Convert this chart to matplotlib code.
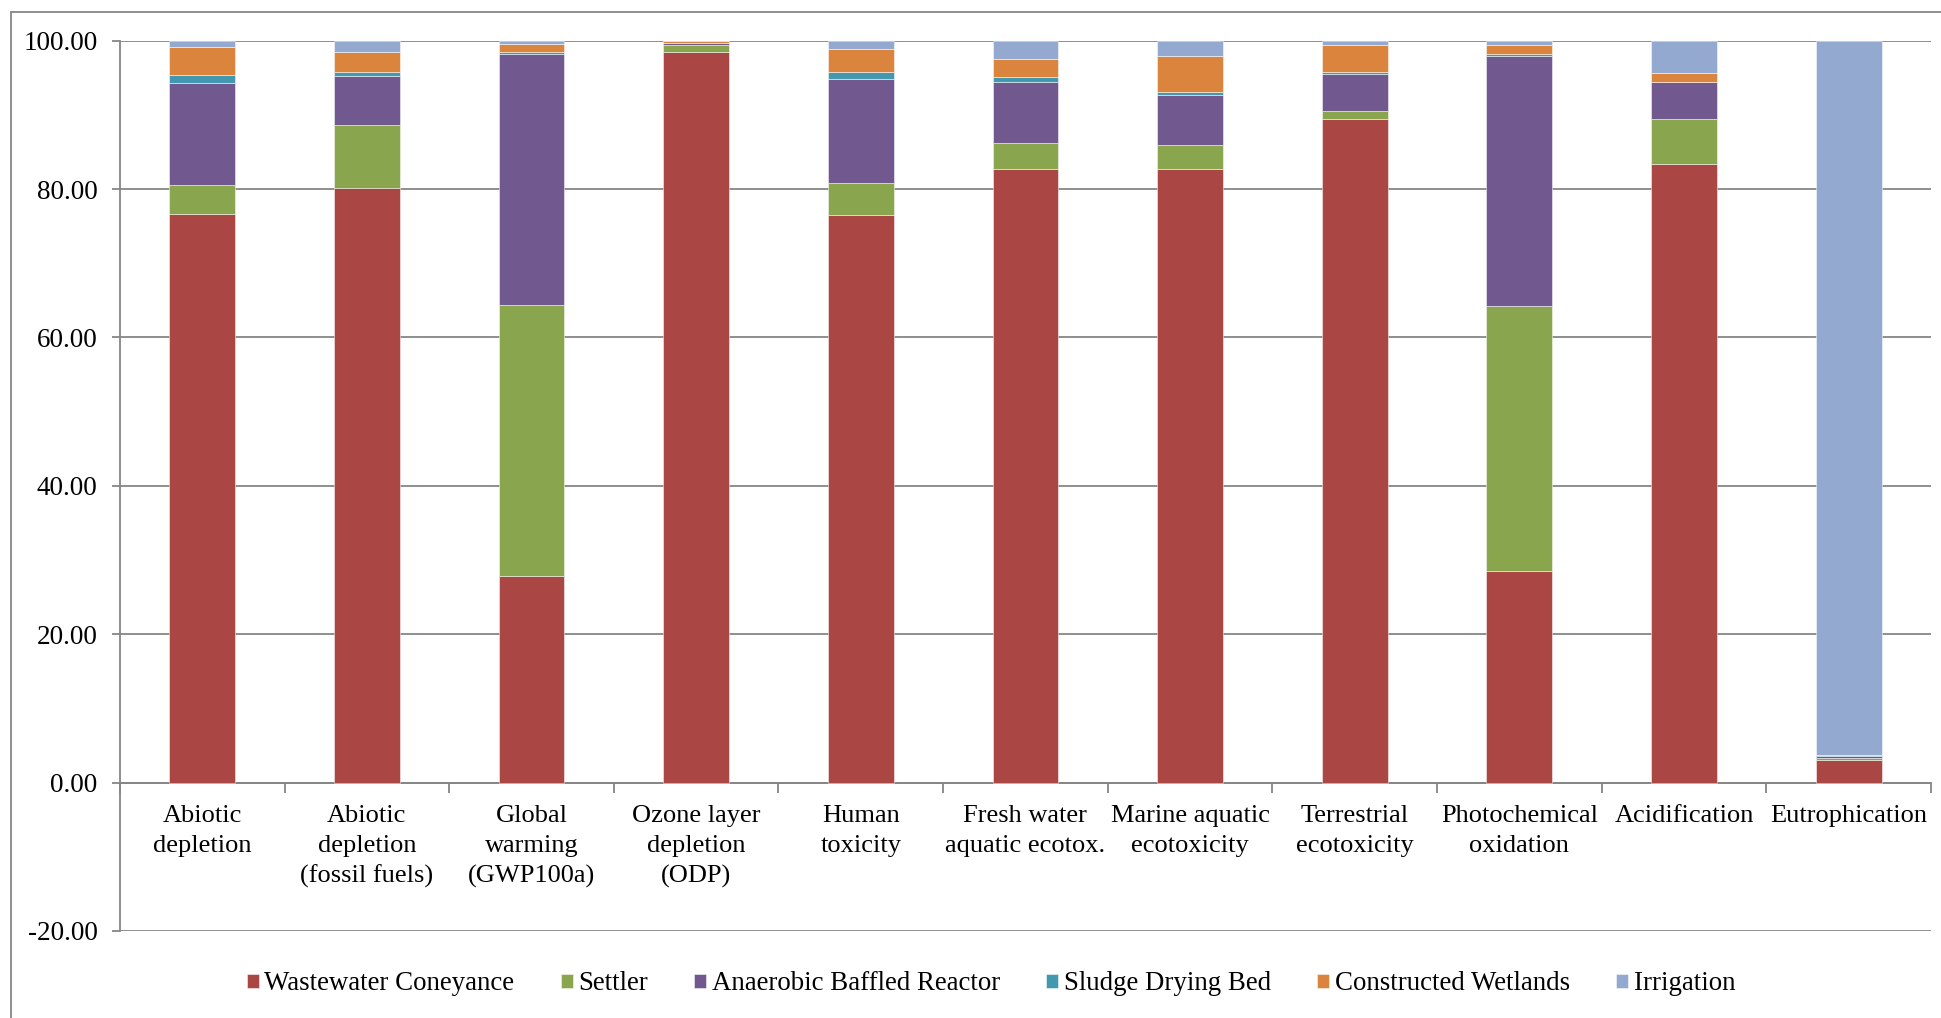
import numpy as np
import matplotlib
matplotlib.use("Agg")
import matplotlib.pyplot as plt
from matplotlib.patches import Rectangle
from matplotlib.ticker import FixedLocator, FormatStrFormatter

plt.rcParams['font.family'] = ['Liberation Serif', 'DejaVu Serif']

categories = [
    "Abiotic\ndepletion", "Abiotic\ndepletion\n(fossil fuels)", "Global\nwarming\n(GWP100a)",
    "Ozone layer\ndepletion\n(ODP)", "Human\ntoxicity", "Fresh water\naquatic ecotox.",
    "Marine aquatic\necotoxicity", "Terrestrial\necotoxicity", "Photochemical\noxidation",
    "Acidification", "Eutrophication",
]

# contribution of each stage (%) per impact category
wastewater_conveyance = [76.7, 80.2, 27.9, 98.5, 76.5, 82.7, 82.7, 89.4, 28.5, 83.4, 3.1]
settler = [3.8, 8.45, 36.5, 0.9, 4.3, 3.45, 3.2, 1.15, 35.7, 6.05, 0.25]
anaerobic_baffled_reactor = [13.85, 6.65, 33.85, 0.3, 14.1, 8.35, 6.75, 4.9, 33.8, 4.95, 0.3]
sludge_drying_bed = [1.0, 0.55, 0.25, 0.03, 0.95, 0.6, 0.45, 0.3, 0.25, 0.05, 0.02]
constructed_wetlands = [3.85, 2.65, 1.1, 0.2, 3.1, 2.4, 4.9, 3.65, 1.15, 1.25, 0.03]
irrigation = [0.8, 1.5, 0.4, 0.07, 1.05, 2.5, 2.0, 0.6, 0.6, 4.3, 96.3]

series = [
    ("Wastewater Coneyance", wastewater_conveyance, "#AA4643"),
    ("Settler", settler, "#89A54E"),
    ("Anaerobic Baffled Reactor", anaerobic_baffled_reactor, "#71588F"),
    ("Sludge Drying Bed", sludge_drying_bed, "#4198AF"),
    ("Constructed Wetlands", constructed_wetlands, "#DB843D"),
    ("Irrigation", irrigation, "#93A9CF"),
]

grid_col = "#868686"
fs = 19

fig = plt.figure(figsize=(19.41, 10.18), dpi=100)
ax = fig.add_axes([0.0618, 0.0855, 0.9330, 0.8745])

# outer chart frame
fig.patches.append(Rectangle((11 / 1941, -0.1), 1.2, 1 - 12 / 1018 + 0.1,
                             transform=fig.transFigure, fill=False,
                             edgecolor=grid_col, linewidth=1.3))

x = np.arange(len(categories))
bottom = np.zeros(len(categories))
for name, vals, col in series:
    vals = np.array(vals)
    ax.bar(x, vals, width=0.4, bottom=bottom, color=col, label=name,
           edgecolor=(1, 1, 1, 0.5), linewidth=0.7, zorder=3)
    bottom += vals

ax.set_xlim(-0.5, len(categories) - 0.5)
ax.set_ylim(-20, 100)
ax.set_yticks(np.arange(-20, 101, 20))
ax.yaxis.set_major_formatter(FormatStrFormatter("%.2f"))
ax.yaxis.grid(True, color=grid_col, linewidth=1.3, zorder=0)

for s in ["top", "right"]:
    ax.spines[s].set_visible(False)
ax.spines["left"].set_color(grid_col)
ax.spines["left"].set_linewidth(1.3)
ax.spines["bottom"].set_position(("data", 0))
ax.spines["bottom"].set_color(grid_col)
ax.spines["bottom"].set_linewidth(1.3)

ax.set_xticks(x)
ax.set_xticklabels(categories, fontsize=fs, linespacing=1.46, va="top")
ax.xaxis.set_minor_locator(FixedLocator(np.arange(-0.5, len(categories), 1.0)))
ax.tick_params(axis="x", which="major", length=0, pad=16)
ax.tick_params(axis="x", which="minor", length=7, width=1.3, color=grid_col, direction="out")
ax.tick_params(axis="y", length=6, width=1.3, color=grid_col, labelsize=19.5, pad=10)

fig.legend(loc="center", bbox_to_anchor=(0.5106, 0.0334), ncol=6, frameon=False,
           fontsize=19.4, handlelength=0.45, handleheight=0.45, handletextpad=0.2,
           columnspacing=1.72)

fig.savefig("out.png", dpi=100)
